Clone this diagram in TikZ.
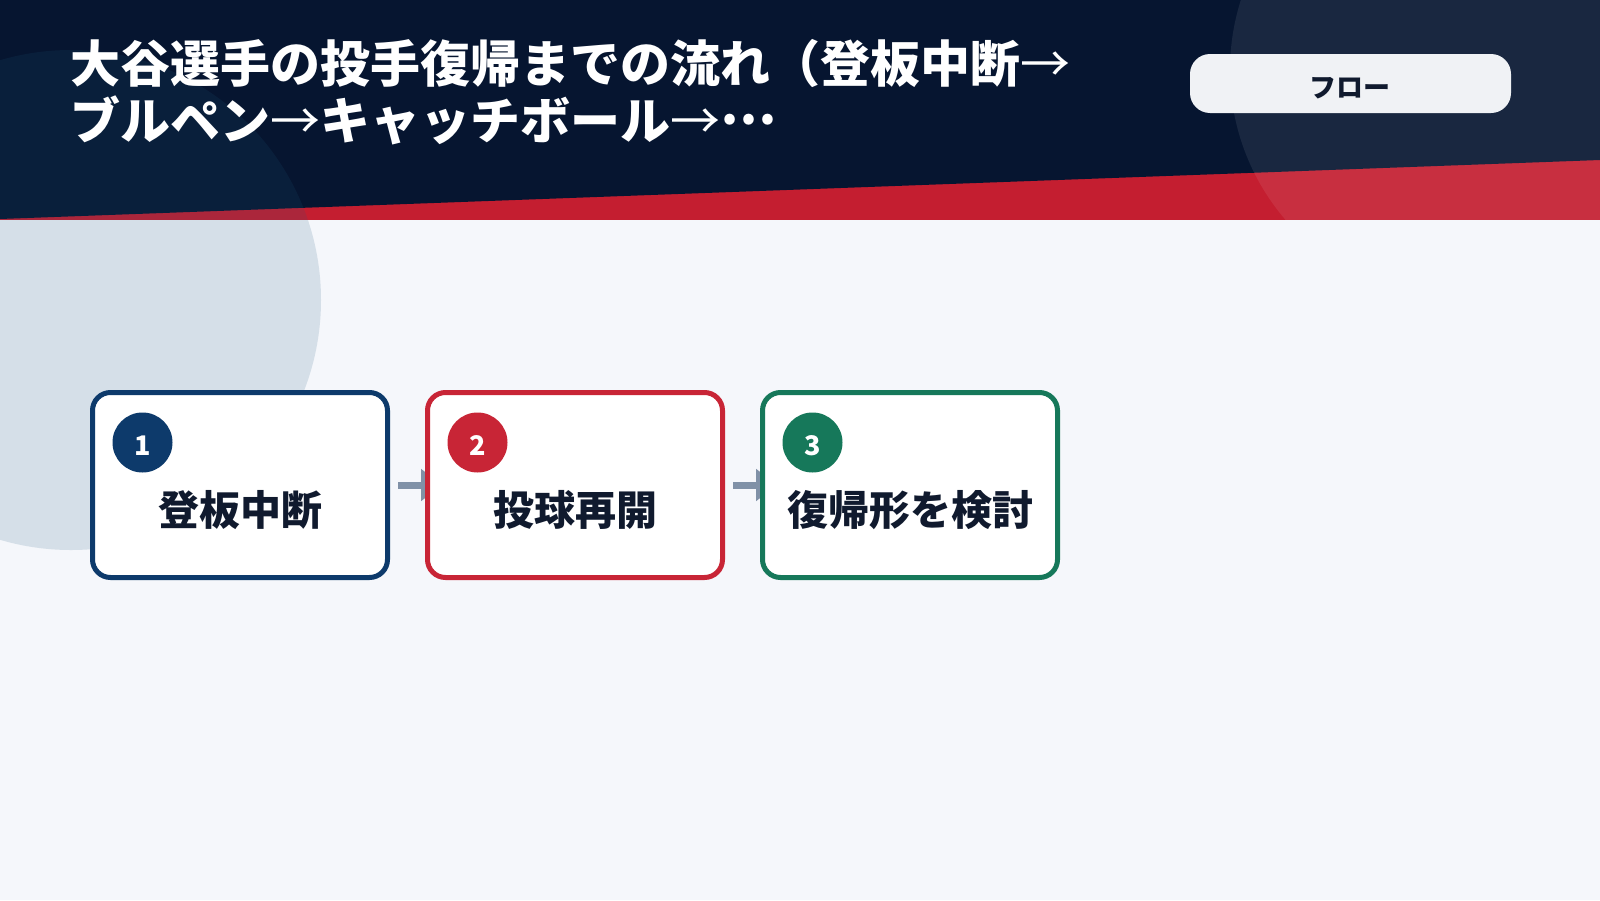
\documentclass[tikz,border=0pt]{standalone}
\usepackage{fontspec}
\setmainfont{Noto Sans CJK JP}
\usetikzlibrary{arrows.meta}
\definecolor{bgc}{HTML}{F5F7FB}
\definecolor{navyc}{HTML}{061530}
\definecolor{redc}{HTML}{C41E30}
\definecolor{circnavy}{HTML}{1F5A80}
\definecolor{pillc}{HTML}{F0F2F5}
\definecolor{inkc}{HTML}{101A2E}
\definecolor{arrc}{HTML}{8091A7}
\definecolor{cone}{HTML}{0D3A6B}
\definecolor{ctwo}{HTML}{C82536}
\definecolor{cthree}{HTML}{16785A}
\newcommand{\thinarrow}{{\mdseries →}}
\newcommand{\middots}{\raisebox{0.3em}{…}}
\pgfdeclarelayer{bg}
\pgfdeclarelayer{mid}
\pgfsetlayers{bg,mid,main}
\tikzset{
  stepbox/.style={draw=#1, line width=5pt, fill=white, rounded corners=18pt,
    minimum width=295pt, minimum height=185pt, inner sep=0pt},
  numdot/.style={circle, fill=#1, minimum size=60pt, inner sep=0pt},
  numtext/.style={inner sep=0pt, text=white, font=\bfseries\fontsize{27}{30}\selectfont},
  steplabel/.style={inner sep=0pt, text=inkc, font=\bfseries\fontsize{41}{46}\selectfont},
  titletext/.style={inner sep=0pt, anchor=base west, text=white,
    font=\bfseries\fontsize{50}{56}\selectfont},
  pillbox/.style={fill=pillc, rounded corners=20pt, minimum width=321pt,
    minimum height=59pt, inner sep=0pt},
  pilltext/.style={inner sep=0pt, text=inkc, font=\bfseries\fontsize{27}{30}\selectfont},
  flow/.style={draw=arrc, line width=7pt, -{Triangle[length=21pt,width=31pt]}}
}
\begin{document}
\begin{tikzpicture}[x=1pt,y=-1pt]
\useasboundingbox (0,0) rectangle (1600,900);
\begin{pgfonlayer}{bg}
  \fill[bgc] (0,0) rectangle (1600,900);
  \fill[redc] (0,0) rectangle (1600,220);
  \fill[navyc] (0,0) -- (1600,0) -- (1600,160) -- (0,219) -- cycle;
  \fill[circnavy, opacity=0.15] (71,300) circle[radius=250];
  \fill[white, opacity=0.08] (1460,70) circle[radius=230];
\end{pgfonlayer}

\node[pillbox] (pill) at (1350.5,83.5) {};
\node[pilltext] (pilllabel) at (1350,88.5) {フロー};

\node[titletext] (t1) at (70,82) {大谷選手の投手復帰までの流れ（登板中断\thinarrow};
\node[titletext] (t2) at (70,139.5) {ブルペン\thinarrow キャッチボール\thinarrow\middots};

\node[stepbox=cone] (b1) at (240,485) {};
\node[stepbox=ctwo] (b2) at (575,485) {};
\node[stepbox=cthree] (b3) at (910,485) {};

\node[numdot=cone] (n1) at ([xshift=52.5pt,yshift=-52.5pt]b1.north west) {};
\node[numdot=ctwo] (n2) at ([xshift=52.5pt,yshift=-52.5pt]b2.north west) {};
\node[numdot=cthree] (n3) at ([xshift=52.5pt,yshift=-52.5pt]b3.north west) {};
\node[numtext] (d1) at ([yshift=-3pt]n1.center) {1};
\node[numtext] (d2) at ([yshift=-3pt]n2.center) {2};
\node[numtext] (d3) at ([yshift=-3pt]n3.center) {3};

\node[steplabel] (l1) at ([yshift=-25pt]b1.center) {登板中断};
\node[steplabel] (l2) at ([yshift=-25pt]b2.center) {投球再開};
\node[steplabel] (l3) at ([yshift=-25pt]b3.center) {復帰形を検討};

\begin{pgfonlayer}{mid}
  \draw[flow] ([xshift=8pt]b1.east) -- ([xshift=17pt]b2.west);
  \draw[flow] ([xshift=8pt]b2.east) -- ([xshift=17pt]b3.west);
\end{pgfonlayer}
\end{tikzpicture}
\end{document}
